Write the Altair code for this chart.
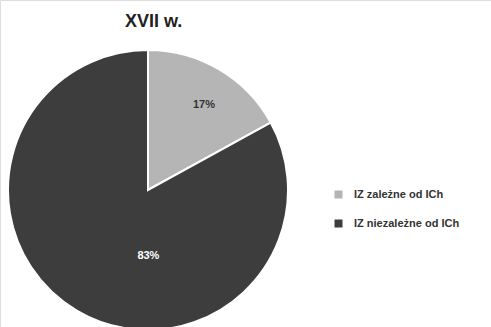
import altair as alt
import pandas as pd

categories = ["IZ zależne od ICh", "IZ niezależne od ICh"]
values = [17, 83]
labels = ["17%", "83%"]
colors = ["#b5b5b5", "#3d3d3d"]
order = [0, 1]

df = pd.DataFrame({"cat": categories, "val": values, "label": labels, "ord": order})

FONT = "Liberation Sans"

base = alt.Chart(df).encode(
    theta=alt.Theta("val:Q", stack=True),
    order=alt.Order("ord:Q"),
)

arc = base.mark_arc(radius=140, stroke="white", strokeWidth=2).encode(
    x=alt.value(148),
    y=alt.value(190),
    color=alt.Color(
        "cat:N",
        scale=alt.Scale(domain=categories, range=colors),
        sort=categories,
        legend=alt.Legend(
            title=None,
            orient="none",
            legendX=333,
            legendY=189,
            symbolType="square",
            symbolSize=64,
            symbolStrokeWidth=0,
            labelFont=FONT,
            labelFontSize=11,
            labelFontWeight="bold",
            labelColor="#333333",
            rowPadding=17,
            labelOffset=10,
        ),
    ),
)

t1 = base.mark_text(radius=104, dx=3, dy=5, font=FONT, fontSize=11, fontWeight="bold", color="#333333").encode(
    x=alt.value(148), y=alt.value(190), text="label:N",
    opacity=alt.condition(alt.datum.ord == 0, alt.value(1), alt.value(0)),
)

t2 = base.mark_text(radius=66, dx=34, dy=9, font=FONT, fontSize=11, fontWeight="bold", color="white").encode(
    x=alt.value(148), y=alt.value(190), text="label:N",
    opacity=alt.condition(alt.datum.ord == 1, alt.value(1), alt.value(0)),
)

chart = alt.layer(arc, t1, t2).properties(
    width=491,
    height=327,
    padding=0,
    autosize=alt.AutoSizeParams(type="none"),
    title=alt.Title("XVII w.", font=FONT, fontSize=18, fontWeight="bold", color="#222222",
                    anchor="start", dx=125, dy=31, offset=0),
).configure_view(stroke=None).configure(background="white")

chart.save("out.html", embed_options={"renderer": "svg", "actions": False})
